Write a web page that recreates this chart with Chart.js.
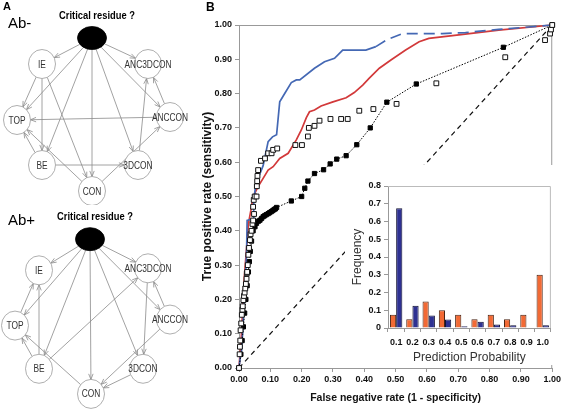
<!DOCTYPE html>
<html>
<head>
<meta charset="utf-8">
<script src="https://cdn.jsdelivr.net/npm/chart.js@4.4.1/dist/chart.umd.min.js"></script>
<style>
  html, body { margin: 0; padding: 0; background: #fff; overflow: hidden; }
  #fig { position: relative; width: 563px; height: 411px; font-family: 'Liberation Sans', Arial, sans-serif; }
  canvas { position: absolute; }
  .txt { position: absolute; line-height: 1; color: #000; white-space: nowrap; }
</style>
</head>
<body>
<div id="fig">
  <canvas id="netTop" width="200" height="205" style="left:0;top:0"></canvas>
  <canvas id="netBot" width="200" height="206" style="left:0;top:205px"></canvas>
  <canvas id="roc" width="363" height="411" style="left:200px;top:0"></canvas>
  <canvas id="hist" width="209" height="200" style="left:345px;top:165px"></canvas>
  <div class="txt" style="left:3px;top:1px;font-size:11px;font-weight:bold">A</div>
  <div class="txt" style="left:206px;top:1px;font-size:12px;font-weight:bold">B</div>
  <div class="txt" style="left:8px;top:15px;font-size:15px">Ab-</div>
  <div class="txt" style="left:8px;top:212px;font-size:15px">Ab+</div>
</div>
<script>
// ---- panel A: network layouts (layout units, same for both graphs) ----
const nodeNames = ['crit', 'IE', 'ANC3DCON', 'TOP', 'ANCCON', 'BE', '3DCON', 'CON'];
const abMinusX = [92, 42, 148, 17, 170, 42, 138, 92];
const abMinusY = [38, 64, 64, 120, 117, 165, 165, 191];
const abPlusX = [90, 39, 148, 15, 170, 39, 143, 91];
const abPlusY = [34, 65, 63, 120, 114, 163, 163, 188];
const abMinusEdges = [
  ['crit', 'IE'], ['crit', 'ANC3DCON'], ['crit', 'TOP'], ['crit', 'BE'], ['crit', 'CON'],
  ['crit', '3DCON'], ['crit', 'ANCCON'],
  ['IE', 'TOP'], ['IE', 'BE'], ['IE', 'CON'],
  ['ANCCON', 'ANC3DCON'], ['ANCCON', 'TOP'], ['3DCON', 'ANC3DCON'],
  ['BE', 'TOP'], ['BE', '3DCON'], ['CON', 'TOP'], ['CON', 'ANCCON']
];
const abPlusEdges = [
  ['crit', 'IE'], ['crit', 'ANC3DCON'], ['crit', 'TOP'], ['crit', 'BE'], ['crit', 'CON'],
  ['crit', '3DCON'], ['crit', 'ANCCON'],
  ['TOP', 'IE'], ['BE', 'IE'], ['BE', 'TOP'], ['BE', 'ANC3DCON'], ['CON', 'TOP'],
  ['ANCCON', 'ANC3DCON'], ['ANCCON', 'CON'], ['ANC3DCON', '3DCON'], ['3DCON', 'CON']
];

// ---- panel B: ROC curves ----
const blueFpr = [0, 0.004, 0.008, 0.012, 0.019, 0.024, 0.026, 0.045, 0.047, 0.056, 0.067, 0.077, 0.093, 0.107, 0.12, 0.13, 0.143, 0.167, 0.183, 0.194, 0.241, 0.273, 0.305, 0.331, 0.405, 0.437, 0.474, 0.522, 0.649, 0.723, 0.829, 1.0];
const blueTpr = [0, 0.03, 0.05, 0.11, 0.24, 0.33, 0.43, 0.435, 0.49, 0.548, 0.567, 0.59, 0.66, 0.674, 0.68, 0.776, 0.796, 0.832, 0.84, 0.84, 0.874, 0.893, 0.903, 0.927, 0.927, 0.937, 0.958, 0.975, 0.975, 0.978, 0.987, 1.0];
const redFpr = [0, 0.004, 0.008, 0.012, 0.016, 0.02, 0.025, 0.03, 0.038, 0.045, 0.061, 0.077, 0.093, 0.109, 0.13, 0.157, 0.183, 0.199, 0.215, 0.225, 0.241, 0.262, 0.3, 0.342, 0.368, 0.395, 0.416, 0.448, 0.485, 0.532, 0.575, 0.606, 0.702, 0.829, 1.0];
const redTpr = [0, 0.05, 0.1, 0.18, 0.25, 0.3, 0.36, 0.42, 0.46, 0.5, 0.529, 0.553, 0.577, 0.587, 0.611, 0.626, 0.665, 0.694, 0.73, 0.747, 0.752, 0.764, 0.776, 0.788, 0.803, 0.825, 0.845, 0.874, 0.898, 0.927, 0.951, 0.961, 0.971, 0.985, 1.0];
const filledFpr = [0, 0.006, 0.01, 0.014, 0.018, 0.022, 0.026, 0.03, 0.033, 0.036, 0.04, 0.045, 0.051, 0.056, 0.062, 0.067, 0.072, 0.077, 0.082, 0.087, 0.093, 0.098, 0.103, 0.108, 0.112, 0.116, 0.12, 0.167, 0.2, 0.21, 0.22, 0.241, 0.27, 0.291, 0.312, 0.342, 0.376, 0.419, 0.472, 0.566, 0.844, 1.0];
const filledTpr = [0, 0.04, 0.08, 0.12, 0.16, 0.2, 0.24, 0.28, 0.31, 0.34, 0.37, 0.40, 0.412, 0.422, 0.428, 0.431, 0.436, 0.441, 0.444, 0.447, 0.45, 0.453, 0.456, 0.459, 0.462, 0.464, 0.468, 0.487, 0.50, 0.524, 0.545, 0.567, 0.578, 0.595, 0.609, 0.619, 0.651, 0.70, 0.775, 0.828, 0.935, 1.0];
const openFpr = [0, 0.002, 0.003, 0.004, 0.005, 0.007, 0.009, 0.011, 0.012, 0.014, 0.016, 0.018, 0.02, 0.022, 0.024, 0.025, 0.026, 0.028, 0.03, 0.032, 0.035, 0.037, 0.04, 0.043, 0.045, 0.048, 0.045, 0.047, 0.05, 0.056, 0.057, 0.058, 0.059, 0.061, 0.07, 0.083, 0.093, 0.104, 0.109, 0.122, 0.18, 0.201, 0.22, 0.223, 0.241, 0.257, 0.292, 0.326, 0.347, 0.384, 0.429, 0.503, 0.63, 0.85, 0.977, 0.993, 0.996, 1.0];
const openTpr = [0, 0.04, 0.062, 0.08, 0.11, 0.13, 0.155, 0.17, 0.18, 0.198, 0.21, 0.22, 0.232, 0.245, 0.26, 0.276, 0.28, 0.30, 0.33, 0.35, 0.373, 0.39, 0.40, 0.42, 0.43, 0.449, 0.47, 0.49, 0.50, 0.50, 0.53, 0.545, 0.56, 0.577, 0.604, 0.611, 0.626, 0.626, 0.636, 0.64, 0.65, 0.65, 0.675, 0.70, 0.706, 0.721, 0.726, 0.726, 0.726, 0.75, 0.755, 0.77, 0.83, 0.906, 0.956, 0.975, 0.987, 1.0];
const chanceFpr = [0, 1];
const chanceTpr = [0, 1];
const blueDashFrom = 0.437; // blue curve turns dashed past this fpr

// ---- inset: prediction probability histogram ----
const bins = ['0.1', '0.2', '0.3', '0.4', '0.5', '0.6', '0.7', '0.8', '0.9', '1.0'];
const orangeFreq = [0.075, 0.05, 0.15, 0.10, 0.075, 0.05, 0.075, 0.05, 0.075, 0.30];
const navyFreq = [0.675, 0.125, 0.07, 0.048, 0.01, 0.035, 0.02, 0.015, 0, 0.015];

const FONT = "'Liberation Sans', Arial, sans-serif";
Chart.defaults.font.family = FONT;
Chart.defaults.color = '#111';

function toPts(xs, ys) {
  return xs.map((x, i) => ({ x: x, y: ys[i] }));
}

// draw edges with open arrowheads, then the nodes and their labels
function drawNet(chart, edges) {
  const ctx = chart.ctx;
  const pts = chart.getDatasetMeta(0).data;
  const pos = {};
  nodeNames.forEach((n, i) => {
    pos[n] = { x: pts[i].x, y: pts[i].y, rx: i === 0 ? 14.5 : 13.5, ry: i === 0 ? 11.5 : 14.5 };
  });
  ctx.save();
  ctx.strokeStyle = '#8a8a8a';
  ctx.lineWidth = 0.8;
  edges.forEach(([a, b]) => {
    const p = pos[a], q = pos[b];
    const dx = q.x - p.x, dy = q.y - p.y;
    const len = Math.hypot(dx, dy);
    const ux = dx / len, uy = dy / len;
    const rp = 1 / Math.hypot(ux / p.rx, uy / p.ry);
    const rq = 1 / Math.hypot(ux / q.rx, uy / q.ry);
    const sx = p.x + ux * rp, sy = p.y + uy * rp;
    const ex = q.x - ux * rq, ey = q.y - uy * rq;
    const ang = Math.atan2(uy, ux), ah = 6, spread = 0.38;
    ctx.beginPath();
    ctx.moveTo(sx, sy);
    ctx.lineTo(ex, ey);
    ctx.moveTo(ex - ah * Math.cos(ang - spread), ey - ah * Math.sin(ang - spread));
    ctx.lineTo(ex, ey);
    ctx.lineTo(ex - ah * Math.cos(ang + spread), ey - ah * Math.sin(ang + spread));
    ctx.stroke();
  });
  nodeNames.forEach((n, i) => {
    const p = pos[n];
    ctx.beginPath();
    ctx.ellipse(p.x, p.y, p.rx, p.ry, 0, 0, Math.PI * 2);
    ctx.fillStyle = i === 0 ? '#000' : '#fff';
    ctx.fill();
    ctx.strokeStyle = i === 0 ? '#000' : '#9a9a9a';
    ctx.lineWidth = 0.8;
    ctx.stroke();
    ctx.textAlign = 'center';
    ctx.textBaseline = 'middle';
    ctx.save();
    if (i === 0) {
      ctx.translate(p.x + 5, p.y - 22);
      ctx.scale(0.85, 1);
      ctx.font = 'bold 11px ' + FONT;
      ctx.fillStyle = '#000';
      ctx.fillText('Critical residue ?', 0, 0);
    } else {
      ctx.translate(p.x, p.y + 0.5);
      ctx.scale(0.76, 1);
      ctx.font = '11px ' + FONT;
      ctx.fillStyle = '#333';
      ctx.fillText(n, 0, 0);
    }
    ctx.restore();
  });
  ctx.restore();
}

function netChart(id, xs, ys, edges) {
  return new Chart(document.getElementById(id), {
    type: 'scatter',
    data: { datasets: [{ data: toPts(xs, ys), pointRadius: 0 }] },
    options: {
      responsive: false,
      animation: false,
      devicePixelRatio: 1,
      events: [],
      layout: { padding: 0 },
      plugins: { legend: { display: false }, tooltip: { enabled: false } },
      scales: {
        x: { display: false, min: 0, max: 200 },
        y: { display: false, min: 0, max: 205, reverse: true }
      }
    },
    plugins: [{ id: 'net', afterDatasetsDraw(chart) { drawNet(chart, edges); } }]
  });
}

netChart('netTop', abMinusX, abMinusY, abMinusEdges);
netChart('netBot', abPlusX, abPlusY, abPlusEdges);

// top and right frame of a plot area
const frame = {
  id: 'frame',
  beforeDatasetsDraw(chart, args, opts) {
    const a = chart.chartArea, ctx = chart.ctx;
    ctx.save();
    ctx.strokeStyle = opts.color || '#999';
    ctx.lineWidth = 1;
    ctx.beginPath();
    ctx.moveTo(a.left, a.top + 0.5);
    ctx.lineTo(a.right - 0.5, a.top + 0.5);
    ctx.lineTo(a.right - 0.5, a.bottom);
    ctx.stroke();
    ctx.restore();
  }
};

const whiteBg = {
  id: 'whiteBg',
  beforeDraw(chart) {
    const ctx = chart.ctx;
    ctx.save();
    ctx.fillStyle = '#fff';
    ctx.fillRect(0, 0, chart.width, chart.height);
    ctx.restore();
  }
};

const axisGrid = { display: true, drawOnChartArea: false, drawTicks: true, tickLength: 4, color: '#999' };

new Chart(document.getElementById('roc'), {
  type: 'scatter',
  data: {
    datasets: [
      { label: 'open', data: toPts(openFpr, openTpr), showLine: false, pointStyle: 'rect', pointRadius: 3.4,
        backgroundColor: '#fff', borderColor: '#111', borderWidth: 1, clip: false, order: 1 },
      { label: 'filled', data: toPts(filledFpr, filledTpr), showLine: true, pointStyle: 'rect', pointRadius: 3,
        backgroundColor: '#000', borderColor: '#000', borderWidth: 1, borderDash: [1.5, 1.5], clip: false, order: 2 },
      { label: 'blue', data: toPts(blueFpr, blueTpr), showLine: true, pointRadius: 0, borderColor: '#4468b4',
        borderWidth: 1.7, clip: false, order: 3,
        segment: { borderDash: c => (c.p0.parsed.x >= blueDashFrom ? [11, 6] : undefined) } },
      { label: 'red', data: toPts(redFpr, redTpr), showLine: true, pointRadius: 0, borderColor: '#d2393a',
        borderWidth: 1.7, clip: false, order: 4 },
      { label: 'chance', data: toPts(chanceFpr, chanceTpr), showLine: true, pointRadius: 0, borderColor: '#111',
        borderWidth: 1.2, borderDash: [5, 4], order: 5 }
    ]
  },
  options: {
    responsive: false,
    animation: false,
    devicePixelRatio: 1,
    events: [],
    layout: { padding: { top: 25, right: 9, left: 0, bottom: 0 } },
    plugins: { legend: { display: false }, tooltip: { enabled: false }, frame: { color: '#999' } },
    scales: {
      x: {
        type: 'linear', min: 0, max: 1,
        ticks: { stepSize: 0.1, autoSkip: false, maxRotation: 0, padding: 2,
          font: { size: 9, weight: 'bold' }, color: '#111', callback: v => Number(v).toFixed(2) },
        grid: axisGrid,
        border: { color: '#999', width: 1 },
        title: { display: true, text: 'False negative rate (1 - specificity)', color: '#111',
          font: { size: 10.5, weight: 'bold' }, padding: { top: 0, bottom: 7 } },
        afterFit: s => { s.height = 43; }
      },
      y: {
        type: 'linear', min: 0, max: 1,
        ticks: { stepSize: 0.1, autoSkip: false, padding: 3,
          font: { size: 9, weight: 'bold' }, color: '#111', callback: v => Number(v).toFixed(2) },
        grid: axisGrid,
        border: { color: '#999', width: 1 },
        title: { display: true, text: 'True positive rate (sensitivity)', color: '#111',
          font: { size: 12, weight: 'bold' }, padding: { top: 0, bottom: 0 } },
        afterFit: s => { s.width = 39; }
      }
    }
  },
  plugins: [frame]
});

new Chart(document.getElementById('hist'), {
  type: 'bar',
  data: {
    labels: bins,
    datasets: [
      { data: orangeFreq, backgroundColor: '#f26a35', borderColor: '#4a2414', borderWidth: 1 },
      { data: navyFreq, backgroundColor: '#2e3192', borderColor: '#111133', borderWidth: 1 }
    ]
  },
  options: {
    responsive: false,
    animation: false,
    devicePixelRatio: 1,
    events: [],
    layout: { padding: { top: 21, right: 0, left: 0, bottom: 0 } },
    datasets: { bar: { barPercentage: 1, categoryPercentage: 0.76 } },
    plugins: { legend: { display: false }, tooltip: { enabled: false }, frame: { color: '#bbb' } },
    scales: {
      x: {
        ticks: { padding: 5, autoSkip: false, minRotation: 0, maxRotation: 0,
          font: { size: 9, weight: 'bold' }, color: '#111' },
        grid: Object.assign({}, axisGrid, { offset: true }),
        border: { color: '#999', width: 1 },
        title: { display: true, text: 'Prediction Probability', color: '#333',
          font: { size: 12 }, padding: { top: 0, bottom: 0 } },
        afterFit: s => { s.height = 37; }
      },
      y: {
        min: 0, max: 0.8,
        ticks: { stepSize: 0.1, padding: 3, font: { size: 9, weight: 'bold' }, color: '#111',
          callback: v => (v === 0 ? '0' : Number(v).toFixed(1)) },
        grid: axisGrid,
        border: { color: '#999', width: 1 },
        title: { display: true, text: 'Frequency', color: '#333', font: { size: 12 }, padding: { top: 5, bottom: 0 } },
        afterFit: s => { s.width = 43; }
      }
    }
  },
  plugins: [whiteBg, frame]
});
</script>
</body>
</html>
